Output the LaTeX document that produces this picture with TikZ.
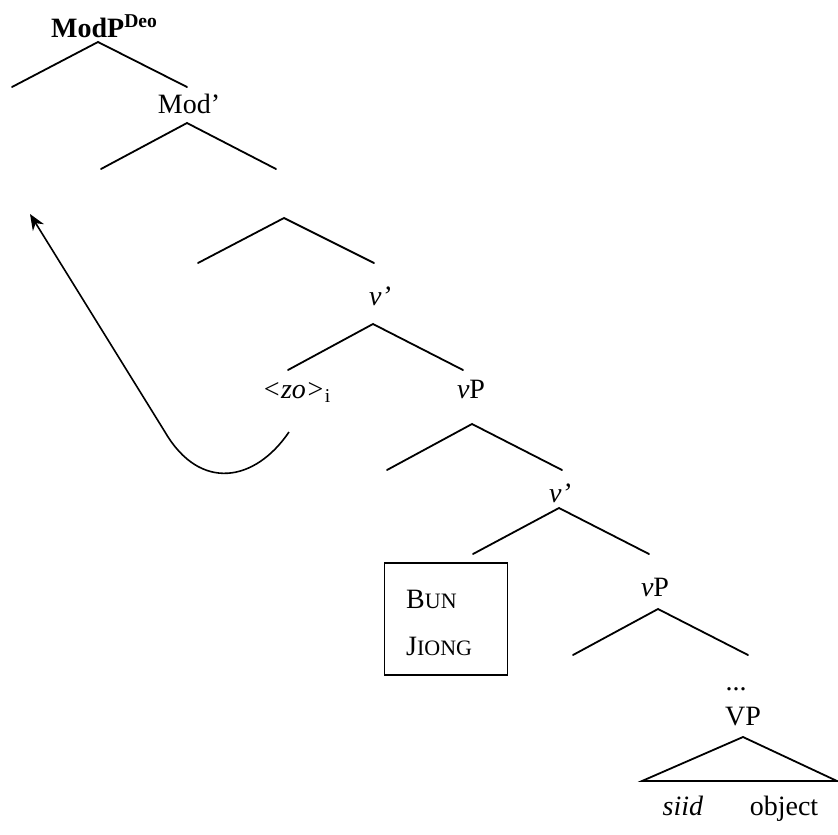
\documentclass[tikz,border=0pt]{standalone}
\usepackage{fontspec}
\setmainfont{Liberation Serif}
\usetikzlibrary{arrows.meta}
\tikzset{
  br/.style={line width=1.8pt, line cap=round},
  lbl/.style={font=\fontsize{28}{32}\selectfont, inner sep=0pt, anchor=base}
}
\newcommand{\sck}[2]{#1{\fontsize{22}{24}\selectfont #2}}
\begin{document}
\begin{tikzpicture}[x=1pt,y=-1pt]
\useasboundingbox (0,0) rectangle (838,835);
% labels
\node[lbl, anchor=base west] (modp) at (51,37) {\textbf{ModP}\textsuperscript{\textbf{Deo}}};
\node[lbl] (modbar) at (189,113) {Mod’};
\node[lbl] (vbar1) at (380,305) {\textit{v’}};
\node[lbl, anchor=base west] (zo) at (262,398) {\textit{<zo>}\textsubscript{i}};
\node[lbl] (vp1) at (471,398) {\textit{v}P};
\node[lbl] (vbar2) at (560,502) {\textit{v’}};
\node[lbl] (vp2) at (655,596) {\textit{v}P};
\node[draw, line width=1.5pt, inner sep=0pt, minimum width=123pt, minimum height=112pt] (box) at (446,619) {};
\node[lbl, anchor=base west] (bun) at (406,608) {\sck{B}{UN}};
\node[lbl, anchor=base west] (jiong) at (406,655) {\sck{J}{IONG}};
\node[lbl] (dots) at (736,690) {...};
\node[lbl] (vp3) at (743,725) {VP};
\node[lbl] (siid) at (683,815) {\textit{siid}};
\node[lbl] (obj) at (784,815) {object};
% branch points
\coordinate (a0) at (98,42);  \coordinate (a1) at (12,87);  \coordinate (a2) at (187,87);
\coordinate (b0) at (187,123);\coordinate (b1) at (101,169);\coordinate (b2) at (276,169);
\coordinate (c0) at (284,218);\coordinate (c1) at (198,263);\coordinate (c2) at (374,263);
\coordinate (d0) at (373,324);\coordinate (d1) at (288,370);\coordinate (d2) at (463,370);
\coordinate (e0) at (472,424);\coordinate (e1) at (387,470);\coordinate (e2) at (562,470);
\coordinate (f0) at (559,508);\coordinate (f1) at (473,554);\coordinate (f2) at (649,554);
\coordinate (g0) at (658,609);\coordinate (g1) at (573,655);\coordinate (g2) at (748,655);
\coordinate (h0) at (743,737);\coordinate (h1) at (642,781);\coordinate (h2) at (837,781);
\foreach \n in {a,b,c,d,e,f,g}{
  \draw[br] (\n1) -- (\n0) -- (\n2);
}
\draw[br, line join=miter] (h1) -- (h0) -- (h2) -- cycle;
% movement arrow
\coordinate (mvs) at (289,432);
\coordinate (mvt) at (30,214);
\draw[line width=1.6pt, -{Stealth[length=16pt,width=13pt]}] (mvs) .. controls (255,482) and (200,492) .. (165,432) -- (mvt);
\end{tikzpicture}
\end{document}
